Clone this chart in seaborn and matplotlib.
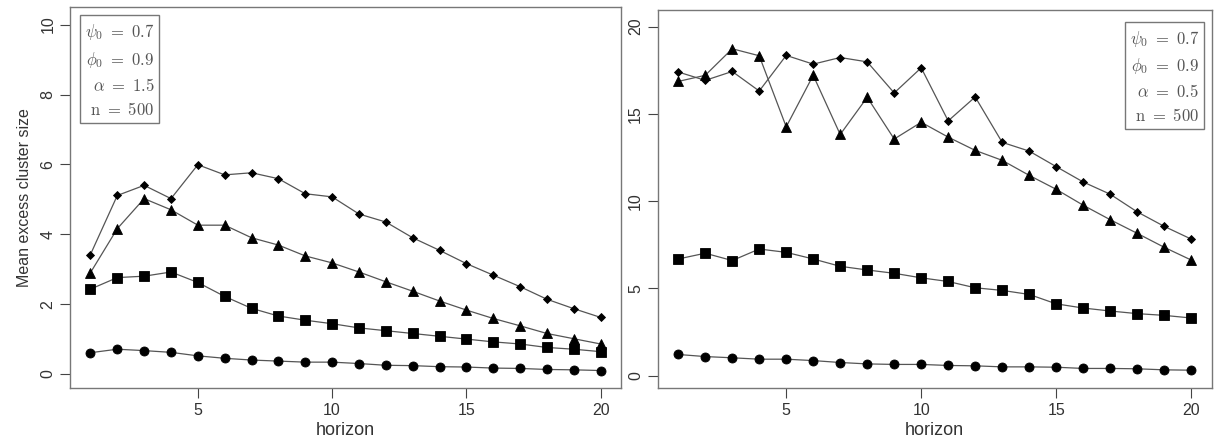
import matplotlib
matplotlib.use('Agg')
import matplotlib.pyplot as plt
import seaborn as sns

# horizon values (shared by both panels)
horizon = list(range(1, 21))

# left panel: alpha = 1.5
left_diamond = [3.42, 5.11, 5.40, 5.02, 5.99, 5.70, 5.76, 5.59, 5.16, 5.07,
                4.58, 4.35, 3.90, 3.54, 3.16, 2.83, 2.50, 2.14, 1.87, 1.62]
left_triangle = [2.90, 4.16, 5.02, 4.70, 4.26, 4.26, 3.90, 3.69, 3.38, 3.18,
                 2.92, 2.64, 2.37, 2.09, 1.83, 1.59, 1.38, 1.16, 1.01, 0.86]
left_square = [2.43, 2.76, 2.80, 2.92, 2.62, 2.22, 1.88, 1.66, 1.54, 1.44,
               1.32, 1.24, 1.16, 1.08, 1.00, 0.92, 0.86, 0.76, 0.71, 0.64]
left_circle = [0.61, 0.71, 0.67, 0.62, 0.52, 0.45, 0.40, 0.37, 0.34, 0.34,
               0.30, 0.25, 0.24, 0.21, 0.20, 0.17, 0.16, 0.13, 0.12, 0.10]

# right panel: alpha = 0.5
right_diamond = [17.40, 16.92, 17.43, 16.31, 18.35, 17.85, 18.23, 17.98, 16.20, 17.64,
                 14.60, 15.97, 13.37, 12.87, 11.98, 11.10, 10.40, 9.39, 8.56, 7.83]
right_triangle = [16.86, 17.21, 18.73, 18.33, 14.26, 17.21, 13.82, 15.95, 13.56, 14.52,
                  13.67, 12.91, 12.34, 11.48, 10.68, 9.77, 8.94, 8.16, 7.36, 6.63]
right_square = [6.69, 7.02, 6.60, 7.26, 7.07, 6.69, 6.27, 6.06, 5.87, 5.61,
                5.40, 5.04, 4.89, 4.66, 4.12, 3.88, 3.71, 3.56, 3.46, 3.31]
right_circle = [1.22, 1.10, 1.03, 0.95, 0.95, 0.87, 0.76, 0.68, 0.65, 0.65,
                0.59, 0.57, 0.51, 0.51, 0.49, 0.42, 0.42, 0.40, 0.34, 0.32]

left_legend = ['$\\psi_0\\ =\\ 0.7$', '$\\phi_0\\ =\\ 0.9$', '$\\alpha\\ =\\ 1.5$', '$\\mathrm{n}\\ =\\ 500$']
right_legend = ['$\\psi_0\\ =\\ 0.7$', '$\\phi_0\\ =\\ 0.9$', '$\\alpha\\ =\\ 0.5$', '$\\mathrm{n}\\ =\\ 500$']

sns.set_style('ticks')
plt.rcParams['font.family'] = ['Liberation Sans', 'DejaVu Sans']
plt.rcParams['mathtext.fontset'] = 'cm'

fig = plt.figure(figsize=(12.18, 4.47), dpi=100)
ax1 = fig.add_axes([0.0575, 0.132, 0.4524, 0.852])
ax2 = fig.add_axes([0.540, 0.132, 0.4548, 0.8456])

markers = [('D', 4.2), ('^', 7.5), ('s', 6.5), ('o', 6.5)]


def draw_panel(ax, series, ylim, yticks, legend_lines, legend_xy, legend_ha):
    for vals, (m, ms) in zip(series, markers):
        sns.lineplot(x=horizon, y=vals, ax=ax, color='#555555', linewidth=0.9,
                     marker=m, markersize=ms, markerfacecolor='black',
                     markeredgecolor='black', markeredgewidth=0.6)
    ax.set_xlim(0.24, 20.76)
    ax.set_ylim(*ylim)
    ax.set_xticks([5, 10, 15, 20])
    ax.set_yticks(yticks)
    ax.tick_params(axis='both', labelsize=11.5, colors='#444444', length=7,
                   width=0.8, labelcolor='#333333')
    for lab in ax.get_yticklabels():
        lab.set_rotation(90)
        lab.set_va('center')
    for sp in ax.spines.values():
        sp.set_color('#777777')
        sp.set_linewidth(1.0)
    ax.set_xlabel('horizon', fontsize=13, color='#333333', labelpad=3)
    ax.text(legend_xy[0], legend_xy[1], '\n'.join(legend_lines), transform=ax.transAxes,
            ha=legend_ha, va='top', multialignment='right', fontsize=12,
            color='#555555', linespacing=1.5,
            bbox=dict(boxstyle='square,pad=0.3', facecolor='white',
                      edgecolor='#777777', linewidth=1.0))


draw_panel(ax1, [left_diamond, left_triangle, left_square, left_circle],
           (-0.4, 10.5), [0, 2, 4, 6, 8, 10], left_legend, (0.027, 0.96), 'left')
ax1.set_ylabel('Mean excess cluster size', fontsize=11.5, color='#333333', labelpad=6)

draw_panel(ax2, [right_diamond, right_triangle, right_square, right_circle],
           (-0.7, 20.95), [0, 5, 10, 15, 20], right_legend, (0.977, 0.95), 'right')
ax2.set_ylabel('')

fig.savefig('out.png', dpi=100)
